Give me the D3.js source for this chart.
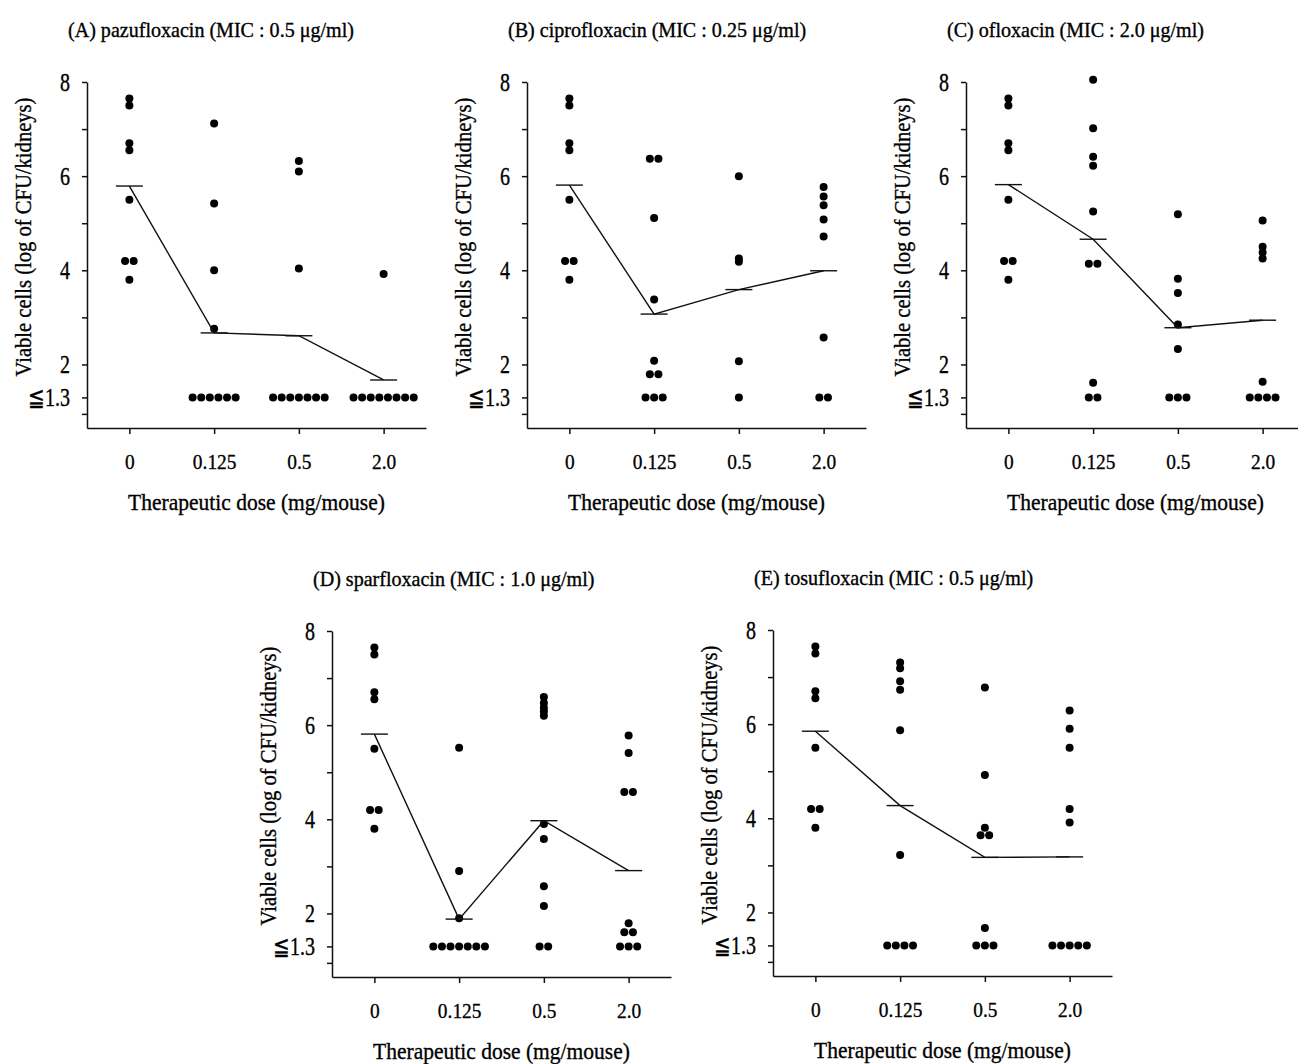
<!DOCTYPE html>
<html>
<head>
<meta charset="utf-8">
<script src="https://cdn.jsdelivr.net/npm/d3@7"></script>
<style>
	body { margin: 0; background: #fff; }
	svg { display: block; }
	text { font-family: "Liberation Serif", "Times New Roman", serif; fill: #000; stroke: #000; stroke-width: 0.35px; }
</style>
</head>
<body>
<svg id="chart" width="1298" height="1064"></svg>
<script>
const doses = ["0", "0.125", "0.5", "2.0"];
const titles = [
	"(A) pazufloxacin (MIC : 0.5 μg/ml)",
	"(B) ciprofloxacin (MIC : 0.25 μg/ml)",
	"(C) ofloxacin (MIC : 2.0 μg/ml)",
	"(D) sparfloxacin (MIC : 1.0 μg/ml)",
	"(E) tosufloxacin (MIC : 0.5 μg/ml)"
];

// untreated group, same mice in every panel
const control = [7.65, 7.5, 6.7, 6.55, 5.5, 4.2, 4.2, 3.8];

const pazufloxacin = [
	control,
	[7.12, 5.42, 4.0, 2.76, 1.3, 1.3, 1.3, 1.3, 1.3, 1.3],
	[6.32, 6.1, 4.04, 1.3, 1.3, 1.3, 1.3, 1.3, 1.3, 1.3],
	[3.92, 1.3, 1.3, 1.3, 1.3, 1.3, 1.3, 1.3, 1.3]
];
const ciprofloxacin = [
	control,
	[6.37, 6.37, 5.11, 3.38, 2.08, 1.79, 1.79, 1.3, 1.3, 1.3],
	[6.0, 4.25, 4.18, 2.07, 1.3],
	[5.77, 5.57, 5.38, 5.08, 4.72, 2.57, 1.3, 1.3]
];
const ofloxacin = [
	control,
	[8.05, 7.02, 6.41, 6.22, 5.25, 4.14, 4.14, 1.61, 1.3, 1.3],
	[5.19, 3.82, 3.52, 2.85, 2.33, 1.3, 1.3, 1.3],
	[5.06, 4.5, 4.38, 4.25, 1.63, 1.3, 1.3, 1.3, 1.3]
];
const sparfloxacin = [
	control,
	[5.52, 2.9, 1.9, 1.3, 1.3, 1.3, 1.3, 1.3, 1.3, 1.3],
	[6.6, 6.47, 6.37, 6.29, 6.2, 3.9, 3.58, 2.58, 2.16, 1.3, 1.3],
	[5.78, 5.41, 4.58, 4.58, 1.79, 1.6, 1.6, 1.3, 1.3, 1.3]
];
const tosufloxacin = [
	control,
	[7.31, 7.19, 6.91, 6.73, 5.87, 3.22, 1.3, 1.3, 1.3, 1.3],
	[6.78, 4.92, 3.8, 3.64, 3.64, 1.67, 1.3, 1.3, 1.3],
	[6.29, 5.9, 5.5, 4.2, 3.91, 1.3, 1.3, 1.3, 1.3, 1.3]
];

const pazufloxacinMeans = [5.79, 2.67, 2.61, 1.67];
const ciprofloxacinMeans = [5.81, 3.07, 3.59, 3.99];
const ofloxacinMeans = [5.82, 4.66, 2.78, 2.94];
const sparfloxacinMeans = [5.81, 1.88, 3.97, 2.91];
const tosufloxacinMeans = [5.85, 4.27, 3.17, 3.18];

const yTicks = [8, 7, 6, 5, 4, 3, 2, 1.3, 0.95];
const yTickLabels = { 8: "8", 6: "6", 4: "4", 2: "2", 1.3: "≦1.3" };

const panels = [
	{ title: titles[0], values: pazufloxacin, means: pazufloxacinMeans, x0: 87, top: 82 },
	{ title: titles[1], values: ciprofloxacin, means: ciprofloxacinMeans, x0: 527, top: 82 },
	{ title: titles[2], values: ofloxacin, means: ofloxacinMeans, x0: 966, top: 82 },
	{ title: titles[3], values: sparfloxacin, means: sparfloxacinMeans, x0: 332, top: 631 },
	{ title: titles[4], values: tosufloxacin, means: tosufloxacinMeans, x0: 773, top: 630 }
];

const plotWidth = 339,
	plotHeight = 346,
	dotRadius = 4,
	dotStep = 8.6,
	meanHalf = 13.5;

const svg = d3.select("#chart");

function condense(sel, k) {
	sel.each(function () {
		let w = this.getComputedTextLength();
		if (w > 0) {
			d3.select(this)
				.attr("textLength", w * k)
				.attr("lengthAdjust", "spacingAndGlyphs");
		}
	});
}

function drawPanel(p) {
	let g = svg.append("g");
	let bottom = p.top + plotHeight;

	let x = d3.scalePoint()
		.domain(doses)
		.range([p.x0, p.x0 + plotWidth])
		.padding(0.5);

	let y = d3.scaleLinear()
		.domain([0.65, 8])
		.range([bottom, p.top]);

	let xAxis = g.append("g")
		.attr("transform", `translate(0,${bottom})`)
		.call(d3.axisBottom(x).tickSize(6).tickSizeOuter(0).tickPadding(19));

	let yAxis = g.append("g")
		.attr("transform", `translate(${p.x0},0)`)
		.call(d3.axisLeft(y)
			.tickValues(yTicks)
			.tickSize(5)
			.tickSizeOuter(0)
			.tickPadding(12)
			.tickFormat(d => yTickLabels[d] || ""));

	g.selectAll(".domain, .tick line")
		.attr("stroke", "#111")
		.attr("stroke-width", 1.5);
	g.selectAll(".tick text")
		.attr("fill", "#000")
		.style("font-family", "'Liberation Serif', serif");
	xAxis.selectAll(".tick text").style("font-size", "22px");
	yAxis.selectAll(".tick text").style("font-size", "25px");
	condense(xAxis.selectAll(".tick text"), 0.88);
	condense(yAxis.selectAll(".tick text"), 0.8);

	// dots: equal values within a dose sit side by side
	let points = [];
	p.values.forEach((vals, i) => {
		d3.group(vals, v => v).forEach((arr, v) => {
			arr.forEach((_, j) => {
				points.push({ dose: doses[i], v: v, off: (j - (arr.length - 1) / 2) * dotStep });
			});
		});
	});

	g.append("g")
		.selectAll("circle")
		.data(points).enter()
		.append("circle")
		.attr("cx", d => x(d.dose) + d.off)
		.attr("cy", d => y(d.v))
		.attr("r", dotRadius)
		.attr("fill", "#000");

	let meanData = p.means.map((m, i) => ({ dose: doses[i], m: m }));

	g.append("path")
		.datum(meanData)
		.attr("fill", "none")
		.attr("stroke", "#111")
		.attr("stroke-width", 1.4)
		.attr("d", d3.line().x(d => x(d.dose)).y(d => y(d.m)));

	g.append("g")
		.selectAll("line")
		.data(meanData).enter()
		.append("line")
		.attr("x1", d => x(d.dose) - meanHalf)
		.attr("x2", d => x(d.dose) + meanHalf)
		.attr("y1", d => y(d.m))
		.attr("y2", d => y(d.m))
		.attr("stroke", "#111")
		.attr("stroke-width", 1.4);

	let title = g.append("text")
		.attr("x", p.x0 - 19)
		.attr("y", p.top - 45)
		.style("font-size", "21px")
		.text(p.title);
	condense(title, 0.955);

	let xTitle = g.append("text")
		.attr("x", p.x0 + plotWidth / 2)
		.attr("y", bottom + 82)
		.attr("text-anchor", "middle")
		.style("font-size", "23px")
		.text("Therapeutic dose (mg/mouse)");
	condense(xTitle, 0.935);

	let yTitle = g.append("text")
		.attr("transform", `translate(${p.x0 - 56},${p.top + plotHeight / 2 - 18}) rotate(-90)`)
		.attr("text-anchor", "middle")
		.style("font-size", "23px")
		.text("Viable cells (log of CFU/kidneys)");
	condense(yTitle, 0.895);
}

panels.forEach(drawPanel);
</script>
</body>
</html>
